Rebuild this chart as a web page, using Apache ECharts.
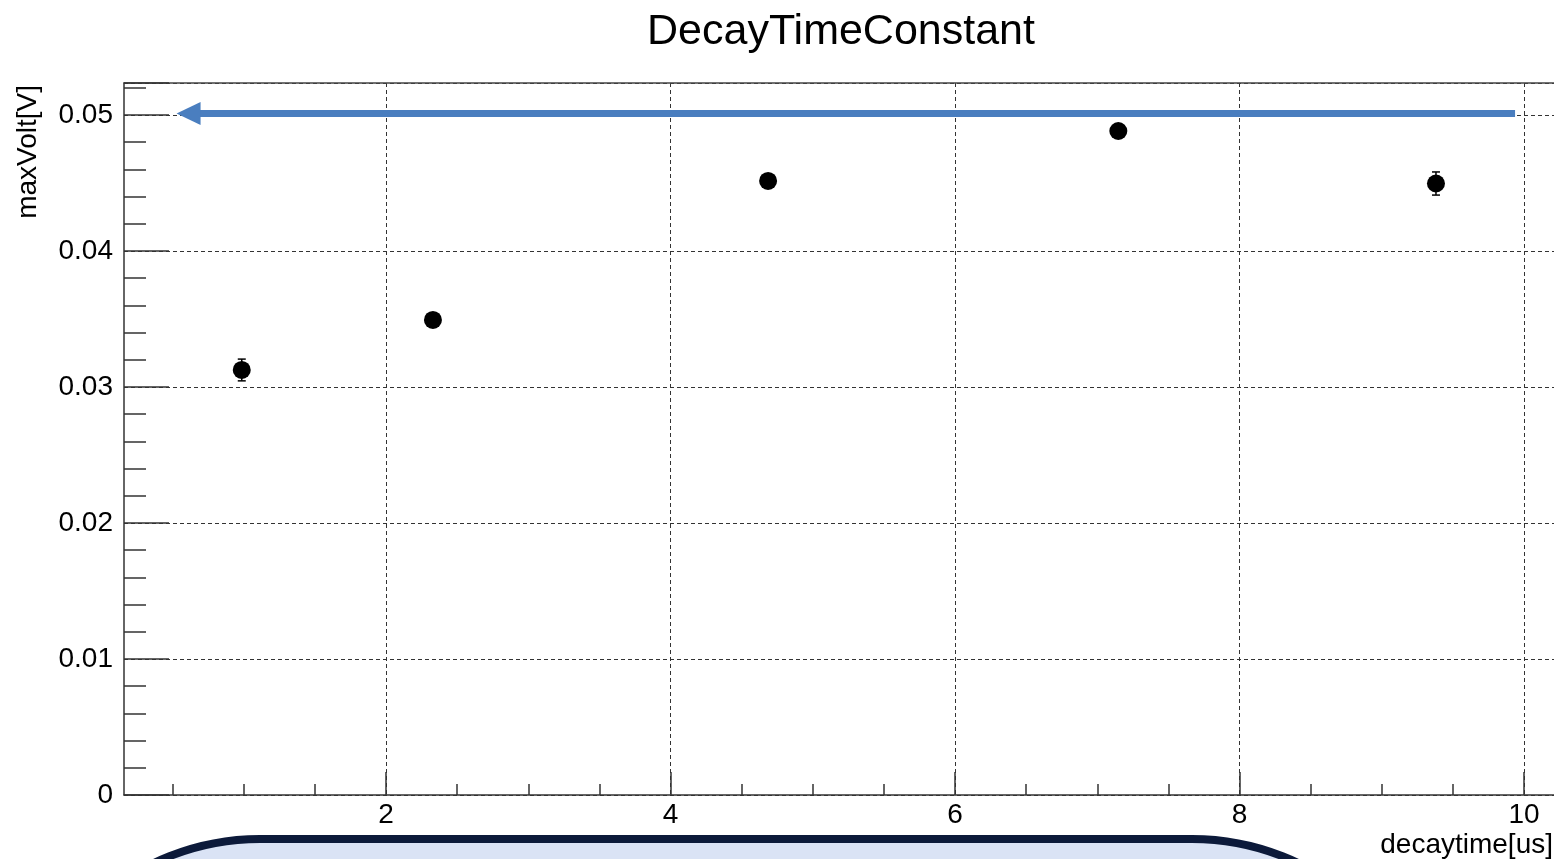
<!DOCTYPE html>
<html>
<head>
<meta charset="utf-8">
<script src="https://cdn.jsdelivr.net/npm/echarts@6/dist/echarts.min.js"></script>
<style>
html,body{margin:0;padding:0;background:#fff;}
#chart{width:1554px;height:859px;}
</style>
</head>
<body>
<div id="chart"></div>
<script>
// ---- data ----
const decayTime = [0.986, 2.33, 4.686, 7.148, 9.381];
const maxVolt   = [0.03125, 0.03493, 0.04515, 0.04882, 0.04496];
const voltErr   = [0.0008, 0.0004, 0.0004, 0.0004, 0.00085];
const xTickLabels = [2, 4, 6, 8, 10];
const xMinorTicks = [0.5, 1, 1.5, 2.5, 3, 3.5, 4.5, 5, 5.5, 6.5, 7, 7.5, 8.5, 9, 9.5];
const arrowFrom = [9.937, 0.05011];
const arrowTo   = [0.612, 0.05011];

const FONT = "'Liberation Sans', Arial, Helvetica, sans-serif";
const chart = echarts.init(document.getElementById('chart'));

const option = {
  backgroundColor: '#ffffff',
  animation: false,
  title: {
    text: 'DecayTimeConstant',
    left: 836,
    top: 6,
    textAlign: 'center',
    textStyle: {fontSize: 43, fontWeight: 'normal', color: '#000', fontFamily: FONT}
  },
  grid: {
    left: 124, top: 83, right: -10, bottom: 64,
    containLabel: false,
    outerBoundsMode: 'none',
    show: false
  },
  xAxis: [{
    type: 'value',
    min: 0.1582, max: 10.281,
    axisLine: {show: true, onZero: false, lineStyle: {color: '#333', width: 1.5}},
    axisTick: {show: true, inside: true, length: 23, customValues: xTickLabels, lineStyle: {color: '#333', width: 1.5}},
    axisLabel: {show: true, customValues: xTickLabels, margin: 6, fontSize: 28, color: '#000', fontFamily: FONT},
    splitLine: {show: true, lineStyle: {color: '#333', width: 1, type: [4, 3]}}
  }, {
    type: 'value',
    min: 0.1582, max: 10.281,
    position: 'bottom',
    axisLine: {show: false},
    axisTick: {show: true, inside: true, length: 11, customValues: xMinorTicks, lineStyle: {color: '#333', width: 1.5}},
    axisLabel: {show: false},
    splitLine: {show: false}
  }, {
    type: 'value',
    min: 0.1582, max: 10.281,
    position: 'top',
    axisLine: {show: true, onZero: false, lineStyle: {color: '#444', width: 1.5}},
    axisTick: {show: false},
    axisLabel: {show: false},
    splitLine: {show: false}
  }],
  yAxis: {
    type: 'value',
    min: 0, max: 0.05235, interval: 0.01,
    axisLine: {show: true, onZero: false, lineStyle: {color: '#333', width: 1.5}},
    axisTick: {show: true, inside: true, length: 45, lineStyle: {color: '#333', width: 1.5}},
    minorTick: {show: true, splitNumber: 5, length: 22, lineStyle: {color: '#333', width: 1.5}},
    axisLabel: {margin: 11, fontSize: 28, color: '#000', fontFamily: FONT, showMaxLabel: false,
      formatter: v => (v === 0 ? '0' : (+v.toFixed(3)).toString())},
    splitLine: {show: true, lineStyle: {color: '#333', width: 1, type: [4, 3]}}
  },
  graphic: [
    {
      type: 'text', x: 28, y: 85, rotation: Math.PI / 2,
      style: {text: 'maxVolt[V]', fontSize: 28, fontFamily: FONT, fill: '#000', align: 'right', verticalAlign: 'middle'}
    },
    {
      type: 'text', x: 1553, y: 831,
      style: {text: 'decaytime[us]', fontSize: 28, fontFamily: FONT, fill: '#000', align: 'right', verticalAlign: 'top'}
    },
    {
      type: 'rect', z: 100,
      shape: {x: 14, y: 839, width: 1424, height: 700, r: 246},
      style: {fill: '#dae3f5', stroke: '#0c1a3a', lineWidth: 8}
    }
  ],
  series: [
    {
      type: 'custom',
      data: decayTime.map((x, i) => [x, maxVolt[i], voltErr[i]]),
      renderItem: function (params, api) {
        const x = api.value(0), y = api.value(1), e = api.value(2);
        const top = api.coord([x, y + e]);
        const bot = api.coord([x, y - e]);
        const st = {stroke: '#000', lineWidth: 1.5};
        return {
          type: 'group',
          children: [
            {type: 'line', shape: {x1: top[0], y1: top[1], x2: bot[0], y2: bot[1]}, style: st},
            {type: 'line', shape: {x1: top[0] - 4, y1: top[1], x2: top[0] + 4, y2: top[1]}, style: st},
            {type: 'line', shape: {x1: bot[0] - 4, y1: bot[1], x2: bot[0] + 4, y2: bot[1]}, style: st}
          ]
        };
      },
      silent: true,
      z: 3
    },
    {
      type: 'scatter',
      data: decayTime.map((x, i) => [x, maxVolt[i]]),
      symbol: 'circle',
      symbolSize: 18,
      itemStyle: {color: '#000', opacity: 1},
      z: 4,
      silent: true,
      markLine: {
        silent: true,
        symbol: ['none', 'triangle'],
        symbolSize: [23, 24],
        label: {show: false},
        lineStyle: {color: '#4a7ebf', width: 7, type: 'solid', opacity: 1},
        itemStyle: {color: '#4a7ebf'},
        emphasis: {disabled: true},
        data: [[{coord: arrowFrom}, {coord: arrowTo}]]
      }
    }
  ]
};
chart.setOption(option);
</script>
</body>
</html>
